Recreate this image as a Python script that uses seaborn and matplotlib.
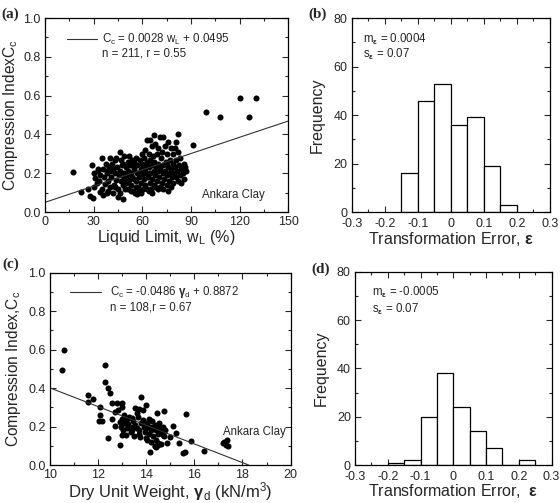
import numpy as np
import matplotlib
matplotlib.use("Agg")
import matplotlib.pyplot as plt
from matplotlib.ticker import MultipleLocator, FixedLocator, FixedFormatter
import seaborn as sns

# ---- data ----
# (a) liquid limit vs compression index
wl = [17.5, 22, 26.5, 28, 29.5, 29, 30, 31, 30.5, 32,
      33, 34, 35, 35.5, 36, 36.5, 37, 37.5, 38, 38.5, 39, 39.5, 40, 40, 34, 33.5, 36, 38, 39, 32.5,
      41, 41.5, 42, 42.5, 43, 43.5, 44, 44.5, 45, 45, 45.5, 46, 46.5, 47, 47, 47.5, 48, 48, 48.5, 49,
      49, 49.5, 50, 50, 42, 44, 46, 48, 41, 43,
      50.5, 51, 51, 51.5, 52, 52.5, 53, 53, 53.5, 54, 54.5, 55, 55, 55.5, 56, 56, 56.5, 57, 57, 57.5,
      58, 58, 58.5, 59, 59, 59.5, 60, 60, 60, 52, 54, 56, 58, 53, 55,
      60.5, 61, 61, 61.5, 62, 62, 62.5, 63, 63, 63, 63.5, 64, 64, 64.5, 65, 65, 65, 65.5, 66, 66,
      66, 66.5, 67, 67, 67, 67.5, 68, 68, 68.5, 69, 69, 69.5, 70, 70, 70, 64, 62, 68, 66, 61,
      70.5, 71, 71, 71.5, 72, 72, 72.5, 73, 73, 73.5, 74, 74, 74.5, 75, 75, 75.5, 76, 76, 76.5, 77,
      77, 77.5, 78, 78, 78.5, 79, 79, 79.5, 80, 80, 73, 76, 71, 75, 79,
      80.5, 81, 81, 81.5, 82, 82, 82, 82.5, 83, 83.5, 84, 84, 85, 85.5, 86, 87, 86.5, 91,
      99, 108, 120, 126, 130]
cc_a = [0.205, 0.105, 0.12, 0.085, 0.07, 0.245, 0.2, 0.175, 0.13, 0.15,
        0.21, 0.105, 0.28, 0.12, 0.22, 0.18, 0.145, 0.25, 0.10, 0.2, 0.16, 0.23, 0.28, 0.13, 0.19, 0.16, 0.09, 0.21, 0.11, 0.22,
        0.18, 0.25, 0.22, 0.14, 0.2, 0.27, 0.165, 0.23, 0.075, 0.12, 0.19, 0.31, 0.21, 0.27, 0.16, 0.24, 0.065, 0.14, 0.2, 0.29,
        0.175, 0.12, 0.23, 0.15, 0.1, 0.28, 0.1, 0.25, 0.21, 0.13,
        0.19, 0.26, 0.12, 0.21, 0.165, 0.24, 0.14, 0.2, 0.27, 0.18, 0.11, 0.22, 0.26, 0.1, 0.16, 0.28, 0.2, 0.095, 0.24, 0.13,
        0.18, 0.11, 0.27, 0.22, 0.15, 0.1, 0.19, 0.25, 0.3, 0.29, 0.24, 0.13, 0.2, 0.11, 0.17,
        0.12, 0.28, 0.17, 0.22, 0.32, 0.14, 0.2, 0.37, 0.26, 0.12, 0.18, 0.30, 0.23, 0.15, 0.37, 0.27, 0.2, 0.12, 0.34, 0.24,
        0.17, 0.29, 0.395, 0.21, 0.14, 0.26, 0.35, 0.19, 0.23, 0.16, 0.3, 0.21, 0.33, 0.12, 0.25, 0.11, 0.24, 0.13, 0.1, 0.2,
        0.18, 0.385, 0.22, 0.28, 0.31, 0.15, 0.2, 0.385, 0.24, 0.17, 0.34, 0.21, 0.26, 0.14, 0.3, 0.19, 0.36, 0.23, 0.16, 0.27,
        0.2, 0.13, 0.33, 0.22, 0.18, 0.25, 0.15, 0.2, 0.33, 0.23, 0.12, 0.11, 0.13, 0.25, 0.3,
        0.18, 0.36, 0.27, 0.21, 0.40, 0.31, 0.16, 0.24, 0.19, 0.28, 0.15, 0.22, 0.2, 0.25, 0.17, 0.21, 0.23, 0.345,
        0.515, 0.49, 0.59, 0.49, 0.59]

# (c) dry unit weight vs compression index
gd = [10.5, 10.6, 11.6, 11.6, 11.8, 12.05, 12.1, 12.15, 12.1, 12.3, 12.3, 12.4, 12.5, 12.4, 12.9,
      12.6, 12.8, 12.7, 12.85, 13.0, 13.0, 12.9, 12.6, 12.7, 13.05, 13.15, 13.0, 13.2, 13.25, 13.4,
      13.45, 13.6, 13.55, 13.7, 13.8, 13.85, 14.0, 13.7, 13.75, 13.85, 14.1, 14.15, 14.05, 14.3, 14.4,
      14.5, 14.45, 14.75, 14.55, 14.7, 14.85, 15.0, 15.1, 15.25, 15.35, 15.65, 15.55, 15.6, 15.85, 16.4,
      17.2, 17.25, 17.35, 17.3, 17.4, 14.35, 14.5,
      13.1, 13.2, 13.3, 13.35, 13.45, 13.5, 13.55, 13.6, 13.65, 13.7, 13.8, 13.9, 13.95, 14.0, 14.05,
      14.1, 14.15, 14.2, 14.25, 14.3, 14.35, 14.4, 14.45, 14.5, 14.55, 14.6, 14.65, 14.7, 14.75, 14.8,
      13.0, 12.95, 13.1, 13.25, 13.4, 14.2, 14.35, 14.6, 14.0, 14.4]
cc_c = [0.496, 0.596, 0.328, 0.366, 0.343, 0.229, 0.299, 0.229, 0.262, 0.522, 0.432, 0.40, 0.373, 0.139, 0.102,
        0.324, 0.32, 0.277, 0.286, 0.32, 0.30, 0.225, 0.237, 0.203, 0.182, 0.156, 0.158, 0.241, 0.211, 0.243,
        0.2, 0.269, 0.295, 0.289, 0.355, 0.286, 0.312, 0.182, 0.144, 0.234, 0.241, 0.069, 0.13, 0.199, 0.095,
        0.113, 0.272, 0.281, 0.182, 0.156, 0.113, 0.147, 0.205, 0.165, 0.113, 0.263, 0.061, 0.069, 0.125, 0.073,
        0.115, 0.12, 0.13, 0.105, 0.1, 0.1, 0.104,
        0.22, 0.19, 0.25, 0.17, 0.23, 0.15, 0.21, 0.19, 0.25, 0.16, 0.22, 0.2, 0.17, 0.19, 0.22,
        0.16, 0.2, 0.18, 0.23, 0.15, 0.21, 0.18, 0.2, 0.16, 0.22, 0.19, 0.17, 0.2, 0.15, 0.18,
        0.24, 0.2, 0.26, 0.21, 0.18, 0.12, 0.1, 0.11, 0.14, 0.13]

# regression coefficients
slope_a, icpt_a = 0.0028, 0.0495
slope_c, icpt_c = -0.0486, 0.8872

# histograms of transformation error
b_edges = [-0.15, -0.1, -0.05, 0.0, 0.05, 0.1, 0.15, 0.2]
b_counts = [16, 46, 53, 36, 39, 19, 3]
d_edges = [-0.2, -0.15, -0.1, -0.05, 0.0, 0.05, 0.1, 0.15, 0.2, 0.25]
d_counts = [1, 2, 20, 38, 24, 14, 7, 0, 2]

err_ticks = [-0.3, -0.2, -0.1, 0, 0.1, 0.2, 0.3]
err_labels = ["-0.3", "-0.2", "-0.1", "0", "0.1", "0.2", "0.3"]

# ---- style ----
sns.set_style("ticks")
plt.rcParams['font.family'] = ['Liberation Sans', 'DejaVu Sans']
plt.rcParams['mathtext.fontset'] = 'custom'
plt.rcParams['mathtext.rm'] = 'Liberation Sans'
plt.rcParams['mathtext.it'] = 'Liberation Sans:italic'
plt.rcParams['mathtext.bf'] = 'Liberation Sans:bold'
plt.rcParams['axes.unicode_minus'] = False

fig = plt.figure(figsize=(5.6, 5.03), dpi=100)
ax_a = fig.add_axes([0.080, 0.5785, 0.435, 0.3855])
ax_b = fig.add_axes([0.628, 0.5785, 0.354, 0.3855])
ax_c = fig.add_axes([0.089, 0.0755, 0.430, 0.3825])
ax_d = fig.add_axes([0.634, 0.0755, 0.351, 0.3840])

LAB = 11.5
TXT = 8.3


def style(ax):
    ax.tick_params(which='both', direction='in', top=True, right=True, labelsize=9, width=0.8, pad=3)
    ax.tick_params(which='major', length=4)
    ax.tick_params(which='minor', length=2)
    for s in ax.spines.values():
        s.set_linewidth(0.9)
        s.set_color('black')


# (a)
sns.scatterplot(x=wl, y=cc_a, ax=ax_a, color='black', s=19, edgecolor='black', linewidth=0)
xa = np.array([0, 150])
ax_a.plot(xa, slope_a * xa + icpt_a, color='#333333', lw=0.8)
ax_a.set_xlim(0, 150)
ax_a.set_ylim(0, 1.0)
ax_a.xaxis.set_major_locator(MultipleLocator(30))
ax_a.xaxis.set_minor_locator(MultipleLocator(15))
ax_a.yaxis.set_major_locator(MultipleLocator(0.2))
ax_a.yaxis.set_minor_locator(MultipleLocator(0.1))
ax_a.yaxis.set_major_formatter(plt.FormatStrFormatter('%.1f'))
ax_a.set_xlabel("Liquid Limit, w$_\\mathrm{L}$ (%)", fontsize=LAB, labelpad=0)
ax_a.set_ylabel("Compression IndexC$_\\mathrm{c}$", fontsize=11.2, labelpad=2)
ax_a.plot([0.09, 0.214], [0.89, 0.89], transform=ax_a.transAxes, color='#333333', lw=0.8)
ax_a.text(0.233, 0.89, "C$_\\mathrm{c}$ = 0.0028 w$_\\mathrm{L}$ + 0.0495", transform=ax_a.transAxes,
          fontsize=TXT, va='center')
ax_a.text(0.233, 0.815, "n = 211, r = 0.55", transform=ax_a.transAxes, fontsize=TXT, va='center')
ax_a.text(97, 0.09, "Ankara Clay", fontsize=TXT, va='center')
style(ax_a)

# (b)
b_mid = [(b_edges[i] + b_edges[i + 1]) / 2 for i in range(len(b_counts))]
sns.histplot(x=b_mid, weights=b_counts, bins=b_edges, ax=ax_b, color='white', edgecolor='black',
             linewidth=0.9, alpha=1)
ax_b.set_xlim(-0.3, 0.3)
ax_b.set_ylim(0, 80)
ax_b.xaxis.set_major_locator(FixedLocator(err_ticks))
ax_b.xaxis.set_major_formatter(FixedFormatter(err_labels))
ax_b.xaxis.set_minor_locator(MultipleLocator(0.05))
ax_b.yaxis.set_major_locator(MultipleLocator(20))
ax_b.yaxis.set_minor_locator(MultipleLocator(10))
ax_b.set_xlabel("Transformation Error, $\\mathbf{ε}$", fontsize=LAB, labelpad=0)
ax_b.set_ylabel("Frequency", fontsize=LAB, labelpad=6)
ax_b.text(0.057, 0.89, "m$_{\\mathbf{ε}}$ = 0.0004", transform=ax_b.transAxes, fontsize=TXT, va='center')
ax_b.text(0.057, 0.812, "s$_{\\mathbf{ε}}$ = 0.07", transform=ax_b.transAxes, fontsize=TXT, va='center')
style(ax_b)
ax_b.tick_params(axis='x', which='major', pad=4.5)

# (c)
sns.scatterplot(x=gd, y=cc_c, ax=ax_c, color='black', s=19, edgecolor='black', linewidth=0)
xc = np.array([10, -icpt_c / slope_c])
ax_c.plot(xc, slope_c * xc + icpt_c, color='#333333', lw=0.8)
ax_c.set_xlim(10, 20)
ax_c.set_ylim(0, 1.0)
ax_c.xaxis.set_major_locator(MultipleLocator(2))
ax_c.xaxis.set_minor_locator(MultipleLocator(1))
ax_c.yaxis.set_major_locator(MultipleLocator(0.2))
ax_c.yaxis.set_minor_locator(MultipleLocator(0.1))
ax_c.yaxis.set_major_formatter(plt.FormatStrFormatter('%.1f'))
ax_c.set_xlabel("Dry Unit Weight, $\\mathbf{γ}_\\mathrm{d}$ (kN/m$^3$)", fontsize=12, labelpad=-1)
ax_c.set_ylabel("Compression Index,C$_\\mathrm{c}$", fontsize=11.2, labelpad=4)
ax_c.plot([0.083, 0.214], [0.898, 0.898], transform=ax_c.transAxes, color='#333333', lw=0.8)
ax_c.text(0.249, 0.898, "C$_\\mathrm{c}$ = -0.0486 $\\mathbf{γ}_\\mathrm{d}$ + 0.8872", transform=ax_c.transAxes,
          fontsize=TXT, va='center')
ax_c.text(0.249, 0.82, "n = 108,r = 0.67", transform=ax_c.transAxes, fontsize=TXT, va='center')
ax_c.text(17.2, 0.173, "Ankara Clay", fontsize=TXT, va='center')
style(ax_c)

# (d)
d_mid = [(d_edges[i] + d_edges[i + 1]) / 2 for i in range(len(d_counts))]
sns.histplot(x=d_mid, weights=d_counts, bins=d_edges, ax=ax_d, color='white', edgecolor='black',
             linewidth=0.9, alpha=1)
ax_d.set_xlim(-0.3, 0.3)
ax_d.set_ylim(0, 80)
ax_d.xaxis.set_major_locator(FixedLocator(err_ticks))
ax_d.xaxis.set_major_formatter(FixedFormatter(err_labels))
ax_d.xaxis.set_minor_locator(MultipleLocator(0.05))
ax_d.yaxis.set_major_locator(MultipleLocator(20))
ax_d.yaxis.set_minor_locator(MultipleLocator(10))
ax_d.set_xlabel("Transformation Error,  $\\mathbf{ε}$", fontsize=LAB, labelpad=-1)
ax_d.set_ylabel("Frequency", fontsize=LAB, labelpad=6)
ax_d.text(0.085, 0.893, "m$_{\\mathbf{ε}}$ = -0.0005", transform=ax_d.transAxes, fontsize=TXT, va='center')
ax_d.text(0.085, 0.808, "s$_{\\mathbf{ε}}$ = 0.07", transform=ax_d.transAxes, fontsize=TXT, va='center')
style(ax_d)
ax_d.tick_params(axis='x', which='major', pad=4.5)

# panel letters
for lbl, x, y in [("(a)", 0.002, 0.986), ("(b)", 0.551, 0.986), ("(c)", 0.004, 0.488), ("(d)", 0.556, 0.479)]:
    fig.text(x, y, lbl, fontsize=11, fontweight='bold', family='Liberation Serif', va='top', ha='left')

fig.savefig("out.png", dpi=100)
